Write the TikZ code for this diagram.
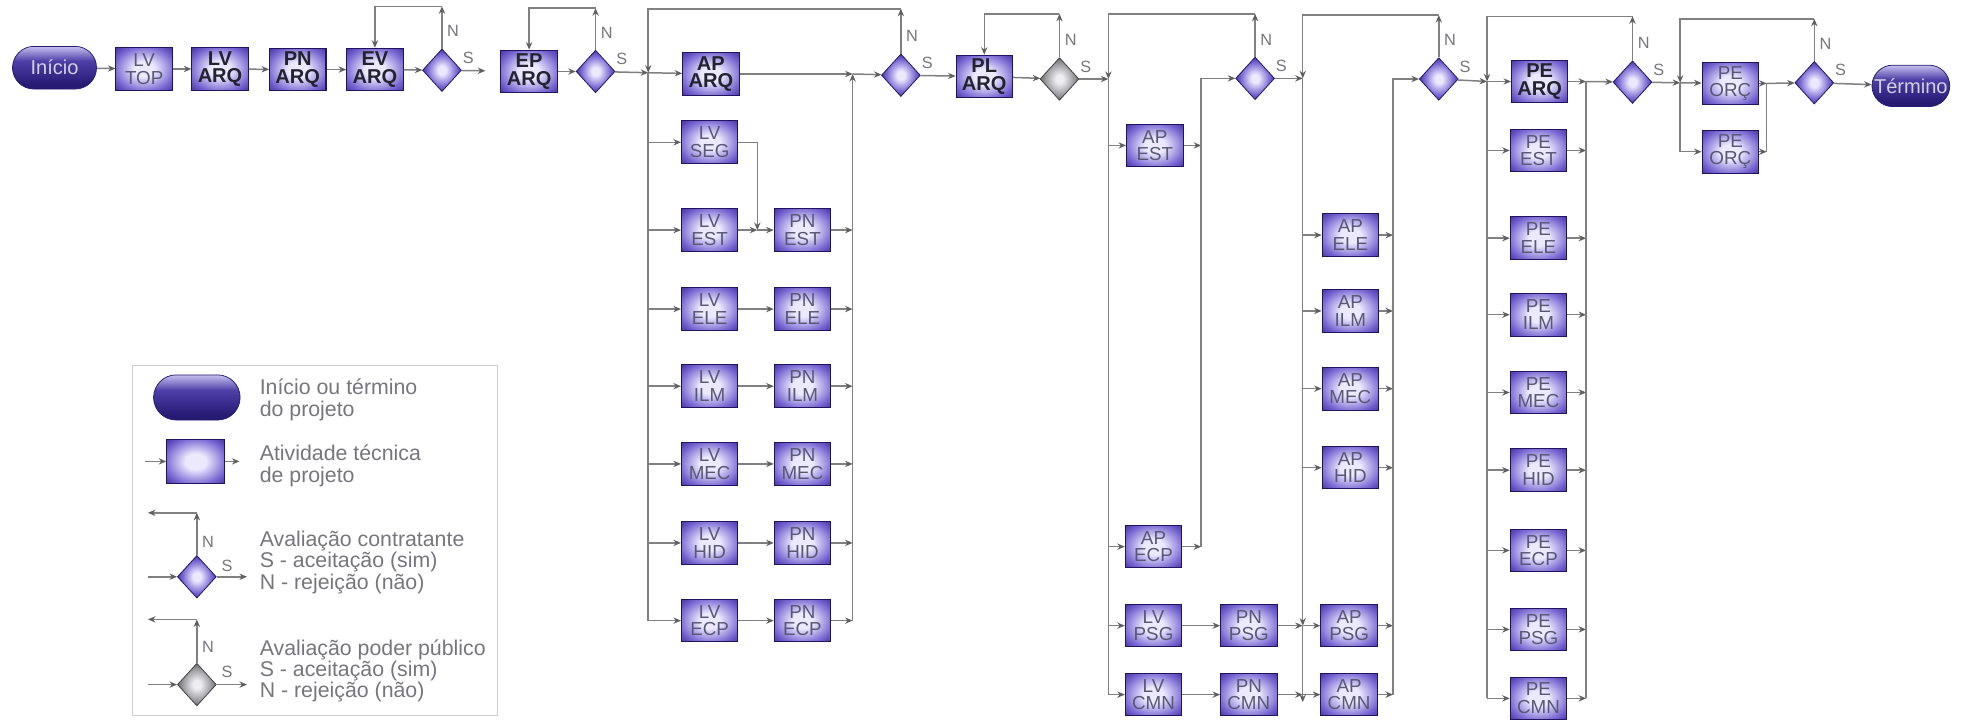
\documentclass[tikz,border=0pt]{standalone}
\usepackage{fontspec}
\setmainfont{Liberation Sans}
\usetikzlibrary{shapes.geometric,shapes.misc,arrows.meta}
\definecolor{bxin}{RGB}{236,233,255}
\definecolor{bxmid}{RGB}{118,100,208}
\definecolor{bxout}{RGB}{48,28,140}
\definecolor{bxdraw}{RGB}{34,18,96}
\definecolor{gyin}{RGB}{238,238,242}
\definecolor{gymid}{RGB}{150,150,155}
\definecolor{gyout}{RGB}{80,80,85}
\definecolor{gydraw}{RGB}{60,60,65}
\definecolor{pdark}{RGB}{38,26,115}
\definecolor{pmid}{RGB}{78,62,168}
\definecolor{plight}{RGB}{205,200,242}
\definecolor{lnc}{RGB}{128,128,128}
\definecolor{tipc}{RGB}{95,95,95}
\definecolor{txl}{RGB}{88,88,115}
\definecolor{txp}{RGB}{210,210,222}
\definecolor{txd}{RGB}{35,35,48}
\definecolor{lgt}{RGB}{118,118,124}
\definecolor{lgb}{RGB}{205,205,205}
\pgfdeclareradialshading{boxshade}{\pgfpoint{0bp}{0bp}}{color(0bp)=(bxin); color(9bp)=(bxin); color(27bp)=(bxmid); color(40bp)=(bxout); color(50bp)=(bxout)}
\pgfdeclareradialshading{dmdshade}{\pgfpoint{0bp}{0bp}}{color(0bp)=(bxin); color(5bp)=(bxin); color(19bp)=(bxmid); color(29bp)=(bxout); color(50bp)=(bxout)}
\pgfdeclareradialshading{gdmdshade}{\pgfpoint{0bp}{0bp}}{color(0bp)=(gyin); color(5bp)=(gyin); color(19bp)=(gymid); color(29bp)=(gyout); color(50bp)=(gyout)}
\pgfdeclareverticalshading{pillshade}{100bp}{color(0bp)=(pdark); color(30bp)=(pdark); color(58bp)=(pmid); color(76bp)=(plight); color(88bp)=(pmid); color(100bp)=(pdark)}
\tikzset{
  abox/.style={rectangle, shading=boxshade, draw=bxdraw, line width=0.8pt,
    minimum width=45pt, minimum height=34pt, inner sep=0pt, text=txl,
    font=\fontsize{15}{14}\selectfont, align=center},
  abold/.style={abox, text=txd, font=\fontsize{16}{14}\selectfont\bfseries},
  dmd/.style={diamond, shading=dmdshade, draw=bxdraw, line width=0.6pt,
    minimum width=31pt, minimum height=34pt, inner sep=0pt},
  gdmd/.style={dmd, shading=gdmdshade, draw=gydraw},
  pill/.style={rounded rectangle, shading=pillshade, draw=pdark, line width=0.6pt,
    minimum width=67pt, minimum height=34pt, inner sep=0pt, text=txp,
    font=\fontsize{16}{16}\selectfont},
  ln/.style={draw=lnc, line width=1.2pt},
  ar/.style={ln, -{Stealth[length=6pt,width=5pt,color=tipc]}},
  lbl/.style={font=\fontsize{13}{13}\selectfont, text=lgt, inner sep=0pt},
  lgtext/.style={font=\fontsize{17}{17}\selectfont, text=lgt, anchor=west,
    align=left, inner sep=0pt}
}
\begin{document}
\begin{tikzpicture}[x=1pt,y=-1pt]
\useasboundingbox (0,0) rectangle (1568,575);
\fill[white] (0,0) rectangle (1568,575);

% ---------- top row ----------
\node[pill] (ini) at (43.5,54) {Início};
\node[abox] (lvtop) at (115,55) {LV\\TOP};
\node[abold] (lvarq) at (175.5,55) {LV\\ARQ};
\node[abold] (pnarq) at (237.5,55.5) {PN\\ARQ};
\node[abold] (evarq) at (299,55.5) {EV\\ARQ};
\node[dmd] (d1) at (352.5,56) {};
\node[abold] (eparq) at (422,57) {EP\\ARQ};
\node[dmd] (d2) at (475,57) {};
\coordinate (j1) at (517,58);
\node[abold] (aparq) at (567,59) {AP\\ARQ};
\coordinate (j2) at (680,59);
\node[dmd] (d3) at (718.5,60) {};
\node[abold] (plarq) at (785,61) {PL\\ARQ};
\node[gdmd] (d4) at (845,63) {};
\coordinate (j3) at (884,63);
\node[dmd] (d5) at (1001,62.5) {};
\coordinate (j4) at (958,62.5);
\coordinate (j5) at (1039,62.5);
\node[dmd] (d6) at (1147.5,63) {};
\coordinate (j6) at (1111,63);
\coordinate (j7) at (1186,65);
\node[abold] (pearq) at (1228,65) {PE\\ARQ};
\coordinate (j8) at (1265,65);
\node[dmd] (d7) at (1302,65.5) {};
\coordinate (j9) at (1340,66);
\node[abox] (peo1) at (1380,66.5) {PE\\ORÇ};
\coordinate (j10) at (1409,66.5);
\node[dmd] (d8) at (1447,66) {};
\node[pill, minimum width=62pt, minimum height=33pt] (term) at (1524,68.5) {Término};

% loop tops
\coordinate (t1) at (352.5,5);
\coordinate (t2) at (475,6.5);
\coordinate (t3) at (718.5,7);
\coordinate (t4) at (845,11);
\coordinate (t5) at (1001,11);
\coordinate (t6) at (1147.5,12);
\coordinate (t7) at (1302,13);
\coordinate (t8) at (1447,15);

% ---------- column nodes ----------
\node[abox] (lvseg) at (566,113.5) {LV\\SEG};
\node[abox] (lvest) at (566,183.5) {LV\\EST};
\node[abox] (lvele) at (566,246.5) {LV\\ELE};
\node[abox] (lvilm) at (566,308) {LV\\ILM};
\node[abox] (lvmec) at (566,370) {LV\\MEC};
\node[abox] (lvhid) at (566,433) {LV\\HID};
\node[abox] (lvecp) at (566,495) {LV\\ECP};
\node[abox] (pnest) at (640,183.5) {PN\\EST};
\node[abox] (pnele) at (640,246.5) {PN\\ELE};
\node[abox] (pnilm) at (640,308) {PN\\ILM};
\node[abox] (pnmec) at (640,370) {PN\\MEC};
\node[abox] (pnhid) at (640,433) {PN\\HID};
\node[abox] (pnecp) at (640,495) {PN\\ECP};
\coordinate (js) at (604,183.5);

\node[abox] (apest) at (921,116) {AP\\EST};
\node[abox] (apecp) at (920,436) {AP\\ECP};
\node[abox] (lvpsg) at (920,499) {LV\\PSG};
\node[abox] (lvcmn) at (920,554) {LV\\CMN};
\node[abox] (pnpsg) at (996,499) {PN\\PSG};
\node[abox] (pncmn) at (996,554) {PN\\CMN};
\coordinate (jp) at (1039,499);
\coordinate (jc) at (1039,554);

\node[abox] (apele) at (1077,187.5) {AP\\ELE};
\node[abox] (apilm) at (1077,248) {AP\\ILM};
\node[abox] (apmec) at (1077,310) {AP\\MEC};
\node[abox] (aphid) at (1077,373) {AP\\HID};
\node[abox] (appsg) at (1076,499) {AP\\PSG};
\node[abox] (apcmn) at (1076,554) {AP\\CMN};

\node[abox] (peest) at (1227,120) {PE\\EST};
\node[abox] (peele) at (1227,190) {PE\\ELE};
\node[abox] (peilm) at (1227,251) {PE\\ILM};
\node[abox] (pemec) at (1227,313) {PE\\MEC};
\node[abox] (pehid) at (1227,375) {PE\\HID};
\node[abox] (peecp) at (1227,439) {PE\\ECP};
\node[abox] (pepsg) at (1227,502) {PE\\PSG};
\node[abox] (pecmn) at (1227,557) {PE\\CMN};

\node[abox] (peo2) at (1380,121) {PE\\ORÇ};

% ---------- main flow ----------
\draw[ar] (ini) -- (lvtop);
\draw[ar] (lvtop) -- (lvarq);
\draw[ar] (lvarq) -- (pnarq);
\draw[ar] (pnarq) -- (evarq);
\draw[ar] (evarq) -- (d1);
\draw[ar, shorten >=12pt] (d1) -- (eparq);
\draw[ar] (eparq) -- (d2);
\draw[ar] (d2) -- (j1);
\draw[ar] (j1) -- (aparq);
\draw[ar] (aparq) -- (j2);
\draw[ar] (j2) -- (d3);
\draw[ar] (d3) -- (plarq);
\draw[ar] (plarq) -- (d4);
\draw[ar] (d4) -- (j3);
\draw[ar] (d5) -- (j5);
\draw[ar] (d6) -- (j7);
\draw[ar] (j7) -- (pearq);
\draw[ar] (pearq) -- (j8);
\draw[ar] (j8) -- (d7);
\draw[ar] (d7) -- (j9);
\draw[ar] (j9) -- (peo1);
\draw[ar] (peo1) -- (j10);
\draw[ar] (j10) -- (d8);
\draw[ar] (d8) -- (term);

% ---------- loops ----------
\draw[ar] (d1.north) -- (t1);
\draw[ar] (t1) -- (t1 -| evarq.north) -- (evarq.north);
\draw[ar] (d2.north) -- (t2);
\draw[ar] (t2) -- (t2 -| eparq.north) -- (eparq.north);
\draw[ar] (d3.north) -- (t3);
\draw[ar] (t3) -- (t3 -| j1) -- (j1);
\draw[ar] (d4.north) -- (t4);
\draw[ar] (t4) -- (t4 -| plarq.north) -- (plarq.north);
\draw[ar] (d5.north) -- (t5);
\draw[ar] (t5) -- (t5 -| j3) -- (j3);
\draw[ar] (d6.north) -- (t6);
\draw[ar] (t6) -- (t6 -| j5) -- (j5);
\draw[ar] (d7.north) -- (t7);
\draw[ar] (t7) -- (t7 -| j7) -- (j7);
\draw[ar] (d8.north) -- (t8);
\draw[ar] (t8) -- (t8 -| j9) -- (j9);

% N / S labels
\foreach \d in {d1,d2,d3,d4,d5,d6,d7,d8}{
  \node[lbl, anchor=west] at ([xshift=4pt,yshift=31pt]\d) {N};
  \node[lbl] at ([xshift=21pt,yshift=10pt]\d) {S};
}

% ---------- stage 3 ----------
\draw[ln] (j1) -- (j1 |- lvecp);
\foreach \b in {lvseg,lvest,lvele,lvilm,lvmec,lvhid,lvecp}{
  \draw[ar] (j1 |- \b) -- (\b);
}
\draw[ar] (lvseg.east) -| (js);
\draw[ar] (lvest) -- (js);
\draw[ar] (js) -- (pnest);
\draw[ar] (lvele) -- (pnele);
\draw[ar] (lvilm) -- (pnilm);
\draw[ar] (lvmec) -- (pnmec);
\draw[ar] (lvhid) -- (pnhid);
\draw[ar] (lvecp) -- (pnecp);
\foreach \b in {pnest,pnele,pnilm,pnmec,pnhid,pnecp}{
  \draw[ar] (\b) -- (j2 |- \b);
}
\draw[ar] (j2 |- pnecp) -- (j2);

% ---------- stage 5 ----------
\draw[ln] (j3) -- (j3 |- lvcmn);
\foreach \b in {apest,apecp,lvpsg,lvcmn}{
  \draw[ar] (j3 |- \b) -- (\b);
}
\draw[ar] (apest) -- (j4 |- apest);
\draw[ar] (apecp) -- (j4 |- apecp);
\draw[ar] (j4 |- apecp) -- (j4) -- (d5);
\draw[ar] (lvpsg) -- (pnpsg);
\draw[ar] (lvcmn) -- (pncmn);

% ---------- stage 6 ----------
\draw[ar] (j5) -- (jp);
\draw[ar] (jp) -- ([yshift=-6pt]jc);
\foreach \b in {apele,apilm,apmec,aphid}{
  \draw[ar] (j5 |- \b) -- (\b);
}
\draw[ar] (pnpsg) -- (jp);
\draw[ar] (jp) -- (appsg);
\draw[ar] (pncmn) -- (jc);
\draw[ar] (jc) -- (apcmn);
\foreach \b in {apele,apilm,apmec,aphid,appsg,apcmn}{
  \draw[ar] (\b) -- (j6 |- \b);
}
\draw[ar] (j6 |- apcmn) -- (j6) -- (d6);

% ---------- stage 7 ----------
\draw[ln] (j7) -- (j7 |- pecmn);
\foreach \b in {peest,peele,peilm,pemec,pehid,peecp,pepsg,pecmn}{
  \draw[ar] (j7 |- \b) -- (\b);
  \draw[ar] (\b) -- (j8 |- \b);
}
\draw[ln] (j8 |- pecmn) -- (j8);

% ---------- stage 8 ----------
\draw[ln] (j9) -- (j9 |- peo2);
\draw[ar] (j9 |- peo2) -- (peo2);
\draw[ar] (peo2) -- (j10 |- peo2);
\draw[ln] (j10 |- peo2) -- (j10);

% ---------- legend ----------
\node[draw=lgb, line width=0.8pt, minimum width=291pt, minimum height=279pt,
  inner sep=0pt, anchor=north west] (lgframe) at (105,291) {};
\node[pill, minimum width=69pt, minimum height=36pt] (lpill) at (157,317) {};
\node[lgtext] (lt1) at (207,319) {Início ou término\\do projeto};
\node[abox, minimum width=46pt, minimum height=35pt] (lbox) at (156,368) {};
\coordinate (lbi) at (116,368);
\coordinate (lbo) at (191,368);
\draw[ar] (lbi) -- (lbox);
\draw[ar] (lbox) -- (lbo);
\node[lgtext] (lt2) at (207,371.5) {Atividade técnica\\de projeto};

\node[dmd] (ld1) at (157,460) {};
\coordinate (ld1i) at (118,460);
\coordinate (ld1o) at (197,460);
\coordinate (ld1t) at (157,409);
\coordinate (ld1l) at (118,409);
\draw[ar] (ld1i) -- (ld1);
\draw[ar] (ld1) -- (ld1o);
\draw[ar] (ld1.north) -- (ld1t);
\draw[ar] (ld1t) -- (ld1l);
\node[lbl, anchor=west] at (161,432) {N};
\node[lbl] at (181,451) {S};
\node[lgtext] (lt3) at (207,448.5) {Avaliação contratante\\S - aceitação (sim)\\N - rejeição (não)};

\node[gdmd] (ld2) at (157,546) {};
\coordinate (ld2i) at (118,546);
\coordinate (ld2o) at (197,546);
\coordinate (ld2t) at (157,494);
\coordinate (ld2l) at (118,494);
\draw[ar] (ld2i) -- (ld2);
\draw[ar] (ld2) -- (ld2o);
\draw[ar] (ld2.north) -- (ld2t);
\draw[ar] (ld2t) -- (ld2l);
\node[lbl, anchor=west] at (161,516) {N};
\node[lbl] at (181,536) {S};
\node[lgtext] (lt4) at (207,535) {Avaliação poder público\\S - aceitação (sim)\\N - rejeição (não)};
\end{tikzpicture}
\end{document}
